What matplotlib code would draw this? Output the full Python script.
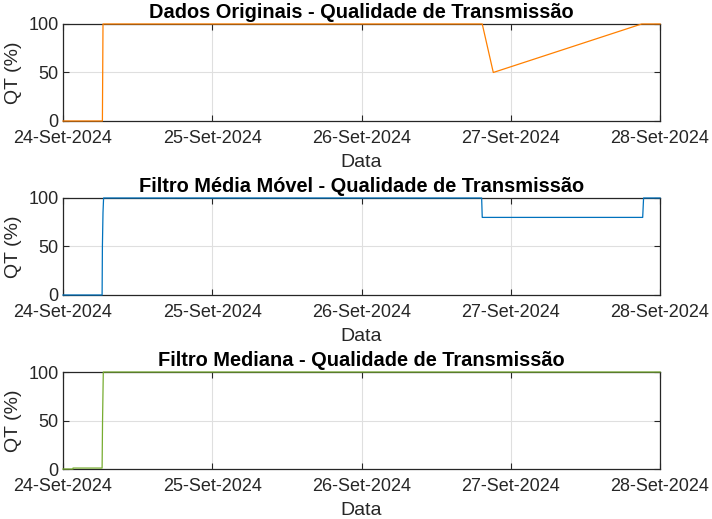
import matplotlib
matplotlib.use("Agg")
import matplotlib.pyplot as plt
import numpy as np
from datetime import datetime, timedelta
import matplotlib.dates as mdates

plt.rcParams['font.family'] = ['Liberation Sans', 'DejaVu Sans']

t0 = datetime(2024, 9, 24)

# times in days since 24-Set-2024 00:00
orig_t = [0.0, 0.264, 0.268, 2.809, 2.883, 3.877, 4.0]
orig_v = [0, 0, 100, 100, 50, 100, 100]

mm_t = [0.0, 0.262, 0.264, 0.268, 0.272, 2.805, 2.809, 3.884, 3.890, 4.0]
mm_v = [0, 0, 50, 85, 100, 100, 80, 80, 100, 100]

med_t = [0.0, 0.067, 0.067, 0.262, 0.265, 0.270, 4.0]
med_v = [0, 0, 1, 1, 50, 100, 100]

tick_days = [0, 1, 2, 3, 4]
tick_labels = ['24-Set-2024', '25-Set-2024', '26-Set-2024', '27-Set-2024', '28-Set-2024']
yticks = [0, 50, 100]

titles = ['Dados Originais - Qualidade de Transmissão',
          'Filtro Média Móvel - Qualidade de Transmissão',
          'Filtro Mediana - Qualidade de Transmissão']
colors = ['#FF8000', '#0072BD', '#77AC30']
series = [(orig_t, orig_v), (mm_t, mm_v), (med_t, med_v)]

def to_dates(days):
    return [t0 + timedelta(days=d) for d in days]

fig = plt.figure(figsize=(7.12, 5.19), dpi=100)
bottoms = [0.7669, 0.4316, 0.0963]
left, width, height = 63/712, 597/712, 97/519

fs = 13
for i in range(3):
    ax = fig.add_axes([left, bottoms[i], width, height])
    t, v = series[i]
    ax.plot(to_dates(t), v, color=colors[i], lw=0.9, clip_on=False, zorder=5)
    ax.set_xlim(to_dates([tick_days[0]])[0], to_dates([tick_days[-1]])[0])
    ax.set_ylim(0, 100)
    ax.set_xticks(to_dates(tick_days))
    ax.set_xticklabels(tick_labels)
    ax.set_yticks(yticks)
    ax.grid(True, color='#DFDFDF', lw=0.8)
    ax.set_axisbelow(True)
    for s in ax.spines.values():
        s.set_color('#262626')
        s.set_linewidth(0.9)
        s.set_zorder(2)
    ax.tick_params(direction='in', top=True, right=True, length=4, width=0.8,
                   colors='#262626', labelsize=fs)
    ax.tick_params(axis='x', pad=6.5)
    ax.tick_params(axis='y', pad=3)
    for lab in ax.get_xticklabels() + ax.get_yticklabels():
        lab.set_color('#262626')
    ax.set_title(titles[i], fontsize=14.4, fontweight='bold', pad=4.5, color='black')
    ax.set_xlabel('Data', fontsize=14, color='#262626', labelpad=5)
    ax.set_ylabel('QT (%)', fontsize=14, color='#262626', labelpad=5)

fig.savefig('out.png', dpi=100)
